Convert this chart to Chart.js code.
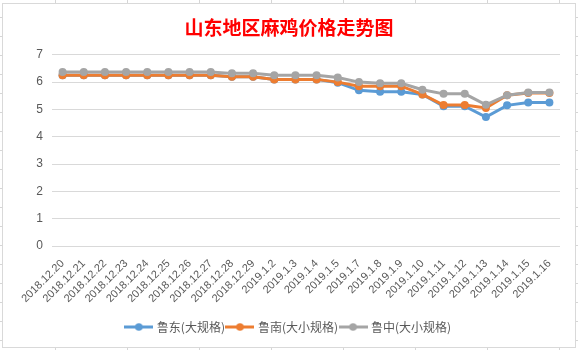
<!DOCTYPE html>
<html><head><meta charset="utf-8">
<script src="https://cdn.jsdelivr.net/npm/chart.js@4.4.1/dist/chart.umd.min.js"></script>
<style>
html,body{margin:0;padding:0;}
body{width:578px;height:350px;overflow:hidden;position:relative;background:#fff;
background-image:linear-gradient(to right,#d6d6d6 1px,transparent 1px),linear-gradient(to bottom,#d6d6d6 1px,transparent 1px);
background-size:72px 19px;background-position:55px 17px;}
#box{position:absolute;left:2px;top:3px;width:574px;height:345px;box-sizing:border-box;border:1px solid #d9d9d9;background:#fff;}
canvas{display:block;}
</style></head>
<body>
<div id="box"><canvas id="c" width="572" height="343"></canvas></div>
<script>
const categories = ['2018.12.20','2018.12.21','2018.12.22','2018.12.23','2018.12.24','2018.12.25','2018.12.26','2018.12.27','2018.12.28','2018.12.29','2019.1.2','2019.1.3','2019.1.4','2019.1.5','2019.1.7','2019.1.8','2019.1.9','2019.1.10','2019.1.11','2019.1.12','2019.1.13','2019.1.14','2019.1.15','2019.1.16'];
const ludong = [6.25,6.25,6.25,6.25,6.25,6.25,6.25,6.25,6.2,6.2,6.1,6.1,6.1,5.98,5.7,5.65,5.65,5.55,5.12,5.12,4.72,5.15,5.25,5.25];
const lunan = [6.25,6.25,6.25,6.25,6.25,6.25,6.25,6.25,6.2,6.2,6.1,6.1,6.1,6.0,5.85,5.85,5.85,5.55,5.16,5.16,5.05,5.52,5.6,5.6];
const luzhong = [6.37,6.37,6.37,6.37,6.37,6.37,6.37,6.37,6.32,6.32,6.25,6.25,6.25,6.17,6.0,5.96,5.96,5.72,5.57,5.57,5.17,5.52,5.62,5.62];
const seriesNames = ['鲁东(大规格)','鲁南(大小规格)','鲁中(大小规格)'];
const yTicks = [0,1,2,3,4,5,6,7];
const titleText = '山东地区麻鸡价格走势图';

const colors = ['#5B9BD5','#ED7D31','#A5A5A5'];
function legendIcon(color){
  const c=document.createElement('canvas');c.width=29;c.height=10;
  const x=c.getContext('2d');
  x.strokeStyle=color;x.lineWidth=3;x.beginPath();x.moveTo(0,5);x.lineTo(29,5);x.stroke();
  x.fillStyle=color;x.beginPath();x.arc(14.5,5,3.8,0,Math.PI*2);x.fill();
  return c;
}
const icons = colors.map(legendIcon);
const allSeries = [ludong, lunan, luzhong];
const datasets = allSeries.map((d,i)=>({
  label: seriesNames[i], data: d,
  borderColor: colors[i], backgroundColor: colors[i],
  pointBackgroundColor: colors[i], pointBorderWidth: 0, pointRadius: 4,
  borderWidth: 3, tension: 0, fill: false, order: 3-i
}));
new Chart(document.getElementById('c'), {
  type: 'line',
  data: { labels: categories, datasets },
  options: {
    responsive: false, animation: false,
    layout: { padding: { left: 15, right: 15, top: 0, bottom: 4 } },
    plugins: {
      tooltip: { enabled: false },
      title: { display: true, text: titleText, color: '#FF0000',
        font: { family: '"Noto Sans CJK SC"', size: 19, weight: 'bold' },
        padding: { top: 12, bottom: 16 } },
      legend: { position: 'bottom',
        labels: { usePointStyle: true, pointStyleWidth: 24, padding: 3, color: '#595959',
          font: { family: '"Noto Sans CJK SC"', size: 12 },
          generateLabels: (chart) => seriesNames.map((n,i)=>({
            text: n, fillStyle: colors[i], strokeStyle: colors[i], lineWidth: 0,
            pointStyle: icons[i], fontColor: '#595959', hidden: false, datasetIndex: i }))
        } }
    },
    scales: {
      x: { offset: true, grid: { display: false }, border: { display: false },
        afterFit: (s) => { s.height = 72; },
        ticks: { autoSkip: false, maxRotation: 45, minRotation: 45, padding: 3, color: '#595959',
          font: { family: '"Liberation Sans"', size: 11 } } },
      y: { min: 0, max: 7, afterBuildTicks: (s)=>{ s.ticks = yTicks.map(v=>({value:v})); },
        afterFit: (s) => { s.width = 34; },
        grid: { color: '#d9d9d9', drawTicks: false }, border: { display: false },
        ticks: { padding: 9, color: '#595959', font: { family: '"Liberation Sans"', size: 12 } } }
    }
  }
});
</script>
</body></html>
